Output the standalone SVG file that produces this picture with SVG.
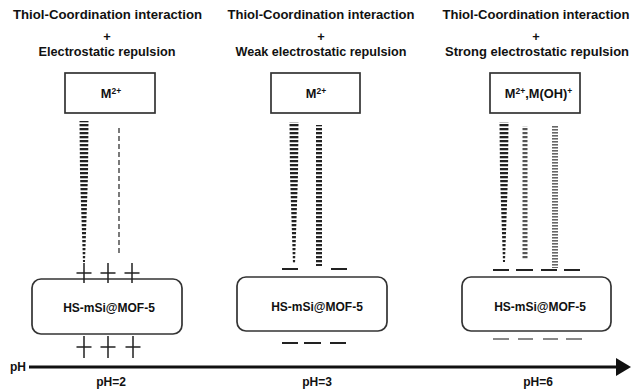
<svg xmlns="http://www.w3.org/2000/svg" width="631" height="390" viewBox="0 0 631 390">
<style>
.t{font-family:"Liberation Sans",Arial,sans-serif;font-weight:bold;font-size:12px;fill:#111;text-anchor:middle}
.h{font-size:12.8px}
.box{fill:#fff;stroke:#333;stroke-width:1.7}
.chg{stroke:#222;stroke-width:1.5;fill:none}
.neg{stroke:#222;stroke-width:2;fill:none}
.negg{stroke:#888;stroke-width:2;fill:none}
</style>
<defs>
<pattern id="stripe" patternUnits="userSpaceOnUse" width="4" height="4"><rect width="4" height="2.3" fill="#222"/></pattern>
<pattern id="stripeG" patternUnits="userSpaceOnUse" width="4" height="4"><rect width="4" height="2.2" fill="#555"/></pattern>
<pattern id="stripeF" patternUnits="userSpaceOnUse" width="3" height="3"><rect width="3" height="1.6" fill="#666"/></pattern>
</defs>
<g id="titles">
<text class="t h" x="107.5" y="19" textLength="189" lengthAdjust="spacingAndGlyphs">Thiol-Coordination interaction</text>
<text class="t h" x="107" y="41">+</text>
<text class="t h" x="107" y="56" textLength="137" lengthAdjust="spacingAndGlyphs">Electrostatic repulsion</text>
<text class="t h" x="321" y="19" textLength="187" lengthAdjust="spacingAndGlyphs">Thiol-Coordination interaction</text>
<text class="t h" x="321" y="41">+</text>
<text class="t h" x="321" y="56" textLength="171" lengthAdjust="spacingAndGlyphs">Weak electrostatic repulsion</text>
<text class="t h" x="536" y="19" textLength="187" lengthAdjust="spacingAndGlyphs">Thiol-Coordination interaction</text>
<text class="t h" x="536" y="41">+</text>
<text class="t h" x="537" y="56" textLength="184" lengthAdjust="spacingAndGlyphs">Strong electrostatic repulsion</text>
</g>
<g id="metal1"><rect class="box" x="65" y="73" width="90" height="40"/><text class="t h" x="111" y="98">M<tspan font-size="8.5" dy="-4">2+</tspan></text></g>
<g id="metal2"><rect class="box" x="271" y="73" width="89" height="40"/><text class="t h" x="316" y="98">M<tspan font-size="8.5" dy="-4">2+</tspan></text></g>
<g id="metal3"><rect class="box" x="490" y="73" width="90" height="40"/><text class="t h" x="538.5" y="98">M<tspan font-size="8.5" dy="-4">2+</tspan><tspan dy="4">,M(OH)</tspan><tspan font-size="8.5" dy="-4">+</tspan></text></g>
<g id="connectors">
<polygon points="79.5,121 88.5,121 88,175 85,262 83,262 80,175" fill="url(#stripe)"/>
<line x1="119" y1="128" x2="119" y2="255" stroke="#333" stroke-width="1.3" stroke-dasharray="5 3"/>
<polygon points="289.5,122 298.5,122 298,175 295,264 293,264 290,175" fill="url(#stripe)"/>
<rect x="316" y="125" width="6" height="141" fill="url(#stripe)"/>
<polygon points="499.5,122 508.5,122 508,175 505,262 503,262 500,175" fill="url(#stripe)"/>
<rect x="522.5" y="126" width="5" height="134" fill="url(#stripeG)"/>
<rect x="552" y="126" width="6" height="142" fill="url(#stripeF)"/>
</g>
<g id="mof1"><rect class="box" x="32" y="279" width="150" height="55" rx="9"/><text class="t" x="109" y="312" font-size="12.5">HS-mSi@MOF-5</text></g>
<g id="mof2"><rect class="box" x="237" y="277" width="150" height="54" rx="9"/><text class="t" x="317" y="311" font-size="12.5">HS-mSi@MOF-5</text></g>
<g id="mof3"><rect class="box" x="462" y="277" width="149" height="54" rx="9"/><text class="t" x="540" y="311" font-size="12.5">HS-mSi@MOF-5</text></g>
<g id="charges">
<path class="chg" d="M76.5 273H91.5M84 263V283M100.5 273H115.5M108 263V283M124.5 273H139.5M132 263V283"/>
<path class="chg" d="M76.5 347H91.5M84 336V358M100.5 347H115.5M108 336V358M125.5 347H140.5M133 336V358"/>
<path class="neg" d="M282 269H298M331 269H347M282 343H298M304 343H321M330 343H346"/>
<path class="neg" d="M493 270H509M516 270H533M541 270H557M564 270H580"/>
<path class="negg" d="M493 339H509M518 339H533M543 339H558M566 339H582"/>
</g>
<g id="axis">
<line x1="29" y1="367" x2="618" y2="367" stroke="#111" stroke-width="3"/>
<polygon points="616,358 631,367 616,376" fill="#111"/>
<text class="t" x="18" y="371">pH</text>
<text class="t" x="111" y="386" font-size="13">pH=2</text>
<text class="t" x="317" y="386" font-size="13">pH=3</text>
<text class="t" x="538" y="386" font-size="13">pH=6</text>
</g>
</svg>
